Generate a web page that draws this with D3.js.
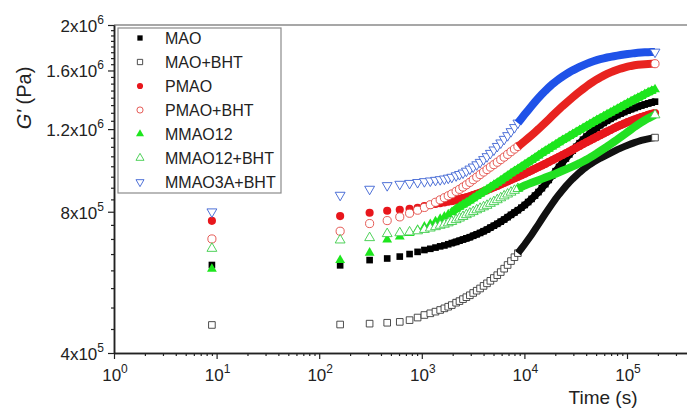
<!DOCTYPE html>
<html><head><meta charset="utf-8">
<script src="https://cdn.jsdelivr.net/npm/d3@7/dist/d3.min.js"></script>
<style>
body{margin:0;background:#fff;}
svg{display:block;font-family:Arial,"Liberation Sans",sans-serif;}
</style>
</head><body>
<svg id="c" width="687" height="408"></svg>
<script>
// ---- data (G' in units of 10^5 Pa, time in s) ----
const times = [9,160,310,460,610,760,910,1060,1210,1360,1510,1660,1810,1960,
2160,2330,2520,2720,2940,3170,3430,3700,4000,4320,4660,5040,5440,5880,6350,6860,7400,8000,8640,9330,
10080,10880,11750,12690,13710,14800,15990,17270,18650,20140,21750,23490,25370,27400,29590,31960,34520,37280,
40260,43480,46960,50720,54780,59160,63890,69000,74520,80480,86920,93880,101400,109500,118200,127700,137900,
148900,160800,173700,187500];

const MAO = [6.16,6.15,6.31,6.36,6.42,6.50,6.57,6.63,6.67,6.71,6.75,6.78,6.82,6.86,
6.90,6.94,6.98,7.02,7.06,7.11,7.16,7.21,7.27,7.33,7.40,7.47,7.54,7.62,7.70,7.79,7.88,7.97,8.06,8.16,
8.27,8.39,8.52,8.66,8.81,8.98,9.16,9.35,9.55,9.76,9.97,10.18,10.39,10.60,10.80,11.00,11.20,11.39,
11.57,11.75,11.92,12.08,12.23,12.37,12.50,12.62,12.74,12.85,12.95,13.05,13.14,13.23,13.31,13.39,13.47,
13.54,13.61,13.67,13.73];

const MAO_BHT = [4.59,4.60,4.62,4.64,4.66,4.70,4.76,4.82,4.86,4.90,4.94,4.98,5.02,5.06,
5.12,5.16,5.21,5.26,5.31,5.37,5.43,5.49,5.56,5.63,5.70,5.78,5.86,5.95,6.05,6.16,6.28,6.40,6.53,6.67,
6.82,6.98,7.15,7.33,7.52,7.72,7.92,8.12,8.32,8.52,8.71,8.89,9.07,9.24,9.40,9.55,9.70,9.84,
9.97,10.09,10.20,10.30,10.40,10.49,10.58,10.67,10.76,10.85,10.93,11.01,11.09,11.16,11.23,11.29,11.35,
11.40,11.44,11.48,11.51];

const PMAO = [7.65,7.83,7.96,8.04,8.08,8.12,8.16,8.23,8.27,8.31,8.34,8.37,8.40,8.43,
8.47,8.51,8.55,8.59,8.63,8.68,8.73,8.78,8.84,8.90,8.96,9.02,9.08,9.15,9.22,9.29,9.36,9.43,9.50,9.57,
9.64,9.72,9.80,9.88,9.96,10.04,10.12,10.21,10.30,10.39,10.48,10.57,10.66,10.75,10.85,10.95,11.05,11.15,
11.25,11.35,11.45,11.55,11.65,11.75,11.85,11.95,12.05,12.15,12.24,12.33,12.42,12.50,12.58,12.66,12.73,
12.80,12.87,12.93,12.98];

const PMAO_BHT = [7.00,7.27,7.55,7.66,7.80,7.94,8.06,8.17,8.28,8.38,8.48,8.57,8.65,8.73,
8.84,8.93,9.03,9.13,9.24,9.36,9.48,9.60,9.72,9.84,9.96,10.08,10.20,10.33,10.46,10.60,10.74,10.88,11.02,11.16,
11.32,11.48,11.65,11.82,12.00,12.19,12.39,12.59,12.80,13.01,13.22,13.43,13.63,13.83,14.03,14.23,14.42,14.61,
14.80,14.98,15.15,15.31,15.46,15.60,15.73,15.85,15.96,16.06,16.15,16.23,16.30,16.36,16.41,16.45,16.48,
16.50,16.52,16.53,16.54];

const MMAO12 = [6.04,6.31,6.54,6.98,7.08,7.20,7.32,7.43,7.53,7.63,7.72,7.81,7.89,7.97,
8.11,8.19,8.28,8.36,8.45,8.54,8.64,8.73,8.83,8.92,9.02,9.12,9.22,9.32,9.43,9.54,9.65,9.76,9.86,9.97,
10.08,10.19,10.30,10.42,10.54,10.66,10.78,10.89,11.01,11.12,11.24,11.36,11.47,11.59,11.70,11.82,11.94,12.05,
12.17,12.29,12.41,12.53,12.65,12.77,12.89,13.01,13.13,13.25,13.37,13.50,13.62,13.74,13.87,13.99,14.11,
14.24,14.36,14.48,14.58];

const MMAO12_BHT = [6.68,6.96,7.04,7.18,7.21,7.24,7.28,7.33,7.38,7.43,7.48,7.52,7.57,7.62,
7.69,7.75,7.81,7.88,7.94,8.00,8.07,8.13,8.19,8.25,8.33,8.40,8.48,8.56,8.64,8.72,8.80,8.88,8.96,9.03,
9.10,9.16,9.22,9.28,9.34,9.40,9.46,9.52,9.58,9.64,9.71,9.78,9.85,9.92,9.99,10.07,10.15,10.24,
10.33,10.43,10.54,10.65,10.77,10.89,11.01,11.14,11.27,11.40,11.54,11.68,11.83,11.98,12.13,12.27,12.40,
12.53,12.65,12.76,12.86];

const MMAO3A_BHT = [8.00,8.68,8.94,9.10,9.16,9.20,9.24,9.28,9.31,9.34,9.37,9.40,9.44,9.48,
9.55,9.61,9.68,9.77,9.87,9.97,10.08,10.20,10.34,10.49,10.66,10.84,11.03,11.22,11.42,11.63,11.86,12.10,12.37,12.63,
12.90,13.17,13.44,13.71,13.98,14.23,14.48,14.72,14.95,15.15,15.34,15.52,15.69,15.86,16.01,16.15,16.28,16.41,
16.53,16.64,16.74,16.83,16.91,16.98,17.05,17.11,17.16,17.21,17.26,17.30,17.34,17.38,17.42,17.45,17.47,
17.49,17.50,17.51,17.52];

const seriesNames = ["MAO","MAO+BHT","PMAO","PMAO+BHT","MMAO12","MMAO12+BHT","MMAO3A+BHT"];
const seriesValues = [MAO, MAO_BHT, PMAO, PMAO_BHT, MMAO12, MMAO12_BHT, MMAO3A_BHT];

const yTickValues = [4, 8, 12, 16, 20];
const yTickBase = ["4x10","8x10","1.2x10","1.6x10","2x10"];
const yTickExp  = ["5","5","6","6","6"];
const xTickValues = [1, 10, 100, 1000, 10000, 100000];
const xTickExp = ["0","1","2","3","4","5"];

// ---- styles ----
const styles = [
  {shape:"square", fill:"#000", stroke:"none", sw:0, size:44, band:"#000", bw:7, legSize:28},
  {shape:"square", fill:"#fff", stroke:"#3a3a3a", sw:0.9, size:44, band:"#111", bw:7, legSize:28},
  {shape:"circle", fill:"#e8161c", stroke:"none", sw:0, size:52, band:"#e8161c", bw:8, legSize:30},
  {shape:"circle", fill:"#fff", stroke:"#e24a44", sw:0.9, size:52, band:"#e8231f", bw:8, legSize:30},
  {shape:"up", fill:"#1de61d", stroke:"none", sw:0, size:42, band:"#1de61d", bw:8, legSize:28},
  {shape:"up", fill:"#fff", stroke:"#3ccc48", sw:0.9, size:42, band:"#22e022", bw:8, legSize:28},
  {shape:"down", fill:"#fff", stroke:"#3c62d2", sw:0.9, size:42, band:"#1f52e8", bw:8, legSize:28}
];

const svg = d3.select("#c");
const x = d3.scaleLog().domain([1, 4e5]).range([114, 114 + 102.6*Math.log10(4e5)]);
const y = d3.scaleLog().domain([4, 20]).range([353, 25]);

function symPath(shape, size){
  const t = shape === "square" ? d3.symbolSquare : shape === "circle" ? d3.symbolCircle : d3.symbolTriangle;
  return d3.symbol().type(t).size(size)();
}
function symTransform(shape, px, py){
  return `translate(${px},${py})` + (shape === "down" ? " rotate(180)" : "");
}

// ---- frame top ----
svg.append("line").attr("x1",114).attr("x2",700).attr("y1",25).attr("y2",25)
  .attr("stroke","#8a8a8a").attr("stroke-width",1.6);

// ---- data ----
const plot = svg.append("g");
const DENSE_T = 9000;
seriesValues.forEach((vals, si) => {
  const st = styles[si];
  const pts = times.map((t,i)=>({t, v: vals[i]}));
  const g = plot.append("g");
  const filled = st.stroke === "none";
  const line = d3.line().x(d=>x(d.t)).y(d=>y(d.v));
  if (filled) {
    g.append("path").attr("d", line(pts.filter(d=>d.t>=1960)))
      .attr("fill","none").attr("stroke",st.band).attr("stroke-width",st.bw);
    g.selectAll("path.m").data(pts).join("path").attr("class","m")
      .attr("d", symPath(st.shape, st.size))
      .attr("transform", d=>symTransform(st.shape, x(d.t), y(d.v)))
      .attr("fill", st.fill);
  } else {
    g.selectAll("path.m").data(pts.filter(d=>d.t<=DENSE_T)).join("path").attr("class","m")
      .attr("d", symPath(st.shape, st.size))
      .attr("transform", d=>symTransform(st.shape, x(d.t), y(d.v)))
      .attr("fill", st.fill).attr("stroke", st.stroke).attr("stroke-width", st.sw);
    g.append("path").attr("d", line(pts.filter(d=>d.t>=8600)))
      .attr("fill","none").attr("stroke",st.band).attr("stroke-width",st.bw);
    const last = pts[pts.length-1];
    g.append("path").attr("d", symPath(st.shape, st.size))
      .attr("transform", symTransform(st.shape, x(last.t), y(last.v)))
      .attr("fill", st.fill).attr("stroke", st.stroke).attr("stroke-width", st.sw);
  }
});

// ---- axes ----
const axisColor = "#222";
const xMinor = [];
for (let e=0; e<=5; e++) for (let k=2; k<=9; k++) { const v=k*Math.pow(10,e); if (v<=4e5) xMinor.push(v); }
const gx = svg.append("g").attr("transform","translate(0,353)");
gx.call(d3.axisBottom(x).tickValues(xMinor).tickSize(3).tickSizeOuter(0).tickFormat(""));
gx.append("g").call(d3.axisBottom(x).tickValues(xTickValues).tickSize(6).tickSizeOuter(0).tickFormat(""));
gx.selectAll("path.domain").attr("stroke",axisColor).attr("stroke-width",1.5);
gx.selectAll(".tick line").attr("stroke",axisColor).attr("stroke-width",1.2);
xTickValues.forEach((v,i)=>{
  const t = gx.append("text").attr("x", x(v)+1).attr("y", 28).attr("text-anchor","middle")
    .attr("font-size",17).attr("fill","#222");
  t.append("tspan").text("10");
  t.append("tspan").attr("dy",-8).attr("font-size",12).text(xTickExp[i]);
});

const yMinor = d3.range(4, 20.01, 0.5).filter(v=>!yTickValues.includes(v));
const gy = svg.append("g").attr("transform","translate(114,0)");
gy.call(d3.axisLeft(y).tickValues(yMinor).tickSize(3).tickSizeOuter(0).tickFormat(""));
gy.append("g").call(d3.axisLeft(y).tickValues(yTickValues).tickSize(6).tickSizeOuter(0).tickFormat(""));
gy.selectAll("path.domain").attr("stroke",axisColor).attr("stroke-width",1.5);
gy.selectAll(".tick line").attr("stroke",axisColor).attr("stroke-width",1.2);
yTickValues.forEach((v,i)=>{
  const t = gy.append("text").attr("x", -10).attr("y", y(v)+7).attr("text-anchor","end")
    .attr("font-size",17).attr("fill","#222");
  t.append("tspan").text(yTickBase[i]);
  t.append("tspan").attr("dy",-8).attr("font-size",12).text(yTickExp[i]);
});

// ---- axis titles ----
svg.append("text").attr("x",603).attr("y",404).attr("text-anchor","middle")
  .attr("font-size",19).attr("fill","#222").text("Time (s)");
const yt = svg.append("text").attr("transform","translate(31,98) rotate(-90)")
  .attr("text-anchor","middle").attr("font-size",20).attr("fill","#222");
yt.append("tspan").attr("font-style","italic").text("G'");
yt.append("tspan").text(" (Pa)");

// ---- legend ----
const leg = svg.append("g");
leg.append("rect").attr("x",118).attr("y",28).attr("width",163).attr("height",165)
  .attr("fill","#fff").attr("stroke","#8a8a8a").attr("stroke-width",1.2);
seriesNames.forEach((name,i)=>{
  const st = styles[i];
  const cy = 38 + i*24;
  leg.append("path").attr("d", symPath(st.shape, st.legSize))
    .attr("transform", symTransform(st.shape, 140, cy))
    .attr("fill", st.fill).attr("stroke", st.stroke).attr("stroke-width", st.sw);
  leg.append("text").attr("x",165).attr("y",cy+6).attr("font-size",16).attr("fill","#222").text(name);
});
</script>
</body></html>
